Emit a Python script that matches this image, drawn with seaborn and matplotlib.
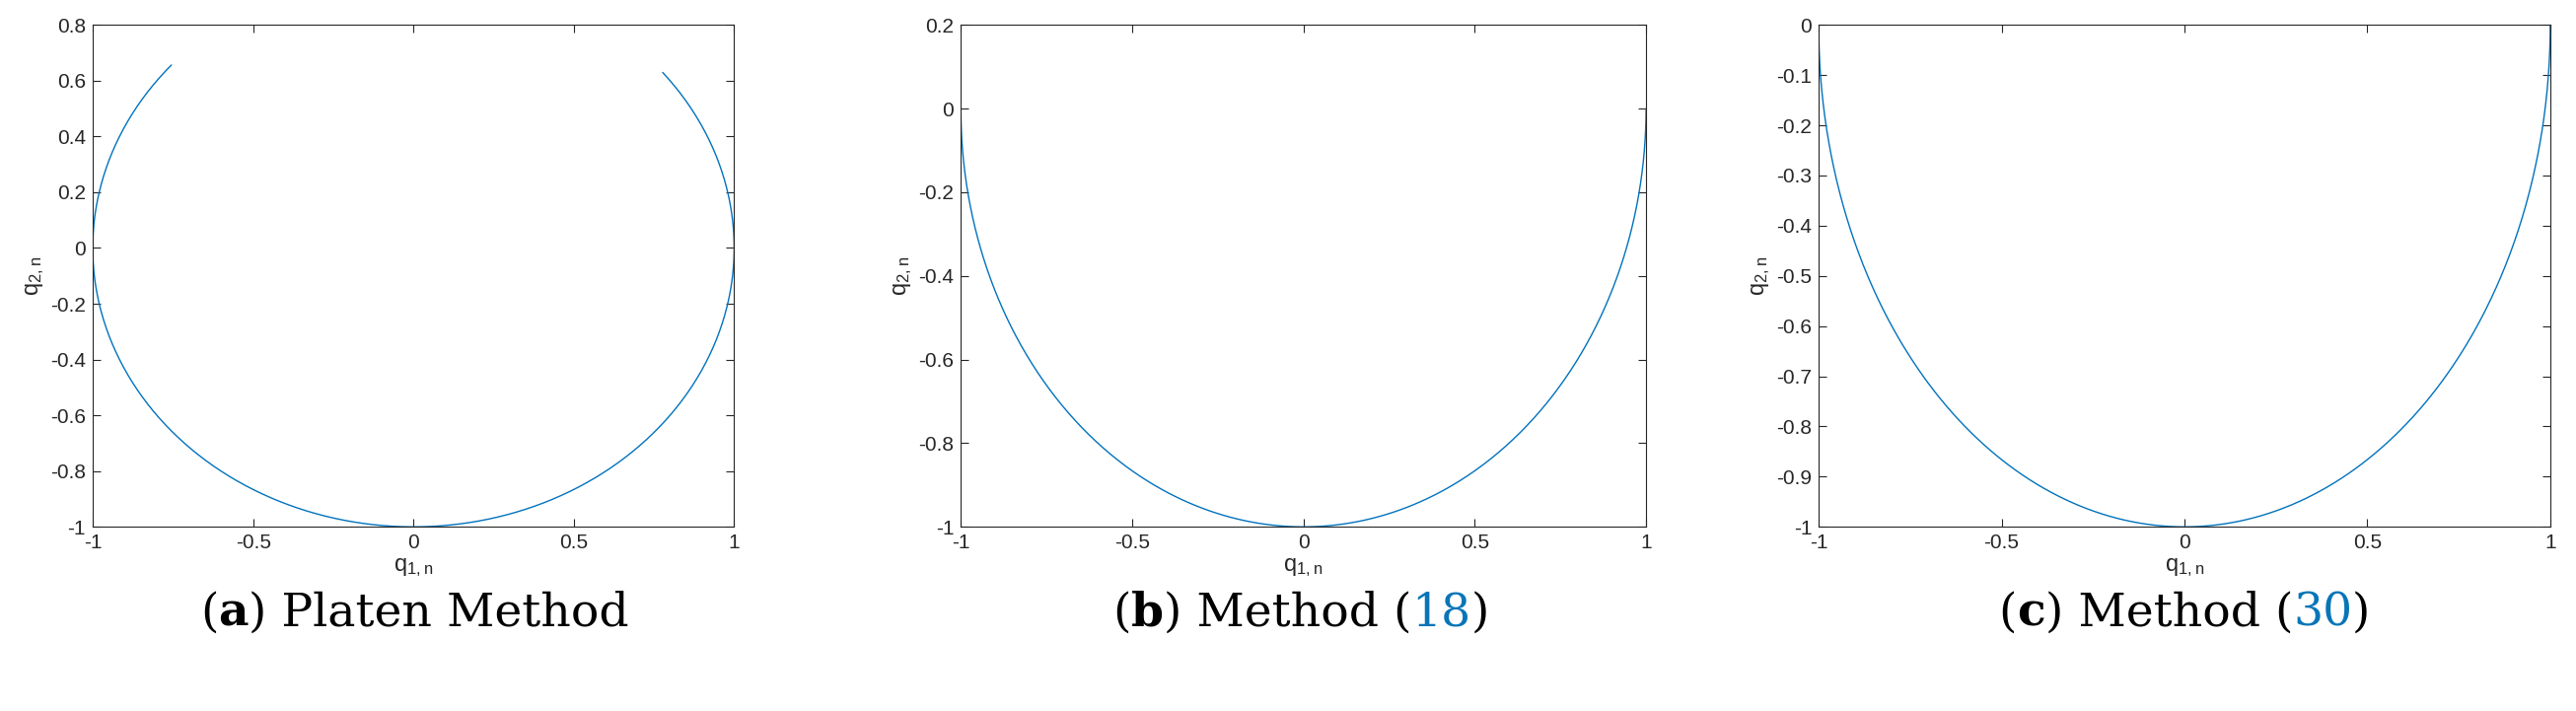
import numpy as np
import pandas as pd
import matplotlib
matplotlib.use("Agg")
import matplotlib.pyplot as plt
import seaborn as sns

# arc angles (degrees)
platen_start_deg = 139   # point near (-0.75, 0.66)
platen_end_deg = 399     # point near (0.78, 0.63)
method18_range = [180, 360]
method30_range = [180, 360]

ylims = [(-1, 0.8), (-1, 0.2), (-1, 0)]
yticks = [[-1, -0.8, -0.6, -0.4, -0.2, 0, 0.2, 0.4, 0.6, 0.8],
          [-1, -0.8, -0.6, -0.4, -0.2, 0, 0.2],
          [-1, -0.9, -0.8, -0.7, -0.6, -0.5, -0.4, -0.3, -0.2, -0.1, 0]]
xticks = [-1, -0.5, 0, 0.5, 1]

captions = [[("(", "k", "normal"), ("a", "k", "bold"), (") Platen Method", "k", "normal")],
            [("(", "k", "normal"), ("b", "k", "bold"), (") Method (", "k", "normal"),
             ("18", "#0875b7", "normal"), (")", "k", "normal")],
            [("(", "k", "normal"), ("c", "k", "bold"), (") Method (", "k", "normal"),
             ("30", "#0875b7", "normal"), (")", "k", "normal")]]

def arc(a0, a1):
    t = np.deg2rad(np.linspace(a0, a1, 600))
    return pd.DataFrame({"q1": np.cos(t), "q2": np.sin(t)})

data = [arc(platen_start_deg, platen_end_deg), arc(*method18_range), arc(*method30_range)]

sns.set_style("white")
plt.rcParams["font.family"] = ["Liberation Sans", "DejaVu Sans"]
plt.rcParams["mathtext.default"] = "regular"

fig = plt.figure(figsize=(26.12, 7.21), dpi=100)
boxes = [(0.036, 0.259, 0.249, 0.706), (0.373, 0.259, 0.266, 0.706), (0.706, 0.259, 0.284, 0.706)]
centers = [0.161, 0.505, 0.848]

for i in range(3):
    ax = fig.add_axes(boxes[i])
    sns.lineplot(data=data[i], x="q1", y="q2", sort=False, estimator=None,
                 color="#0072BD", linewidth=1.0, ax=ax)
    ax.set_xlim(-1, 1)
    ax.set_ylim(*ylims[i])
    ax.set_xticks(xticks)
    ax.set_xticklabels(["%g" % v for v in xticks])
    ax.set_yticks(yticks[i])
    ax.set_yticklabels(["%g" % v for v in yticks[i]])
    ax.tick_params(labelsize=15, direction="in", length=6, color="#262626",
                   top=True, right=True, bottom=True, left=True, pad=5)
    for s in ax.spines.values():
        s.set_color("#262626")
        s.set_linewidth(0.8)
    ax.set_xlabel(r"q$_{1,n}$", fontsize=17, labelpad=3)
    ax.set_ylabel(r"q$_{2,n}$", fontsize=17, labelpad=3)

# captions built piece by piece
fig.canvas.draw()
r = fig.canvas.get_renderer()
for i, parts in enumerate(captions):
    texts = []
    total = 0
    for s, c, w in parts:
        t = fig.text(0, 0.12, s, color=c, fontweight=w, fontsize=34,
                     family=["DejaVu Serif"], va="baseline")
        bb = t.get_window_extent(r)
        texts.append((t, bb.width))
        total += bb.width
    x = centers[i] * fig.bbox.width - total / 2
    for t, w in texts:
        t.set_x(x / fig.bbox.width)
        x += w

fig.savefig("out.png", dpi=100)
